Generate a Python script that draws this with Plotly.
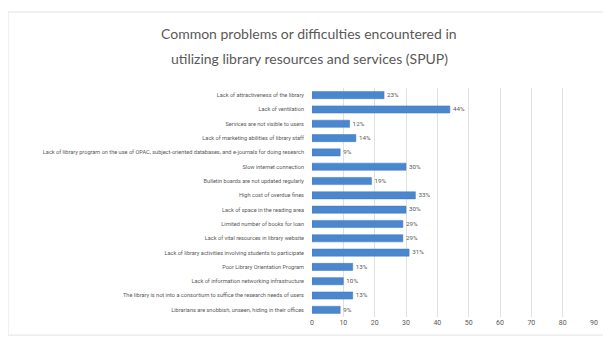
import plotly.graph_objects as go

title_lines = [
    "Common problems or difficulties encountered in",
    "utilizing library resources and services (SPUP)",
]
categories = [
    "Lack of attractiveness of the library",
    "Lack of ventilation",
    "Services are not visible to users",
    "Lack of marketing abilities of library staff",
    "Lack of library program on the use of OPAC, subject-oriented databases, and e-journals for doing research",
    "Slow internet connection",
    "Bulletin boards are not updated regularly",
    "High cost of overdue fines",
    "Lack of space in the reading area",
    "Limited number of books for loan",
    "Lack of vital resources in library website",
    "Lack of library activities involving students to participate",
    "Poor Library Orientation Program",
    "Lack of information networking infrastructure",
    "The library is not into a consortium to suffice the research needs of users",
    "Librarians are snobbish, unseen, hiding in their offices",
]
values = [23, 44, 12, 14, 9, 30, 19, 33, 30, 29, 29, 31, 13, 10, 13, 9]
labels = [f"{v}%" for v in values]
x_ticks = [0, 10, 20, 30, 40, 50, 60, 70, 80, 90]

FONT = "Roboto, Liberation Sans, sans-serif"
TFONT = "Lato, Roboto, sans-serif"

fig = go.Figure(go.Bar(
    y=categories, x=values, orientation="h",
    marker=dict(color="#4a87cf", line=dict(color="#3f78bb", width=0.5)),
    width=0.5,
    text=labels, textposition="outside",
    textfont=dict(size=7, color="#595959", family=FONT),
    cliponaxis=False,
))

fig.update_layout(
    width=611, height=341,
    paper_bgcolor="white", plot_bgcolor="white",
    margin=dict(l=304, r=25, t=80, b=32, autoexpand=False),
    showlegend=False,
    shapes=[dict(type="rect", xref="paper", yref="paper",
                 x0=-1.078, x1=1.057, y0=-0.079, y1=1.332,
                 line=dict(color="#e2e2e2", width=1), layer="below")],
    annotations=[
        dict(text=title_lines[0], xref="paper", yref="paper", x=-0.009, y=1.236,
             xanchor="center", yanchor="middle", showarrow=False,
             font=dict(family=TFONT, size=14, color="#595959")),
        dict(text=title_lines[1], xref="paper", yref="paper", x=-0.009, y=1.131,
             xanchor="center", yanchor="middle", showarrow=False,
             font=dict(family=TFONT, size=14, color="#595959")),
    ],
)
fig.update_xaxes(
    range=[0, 90], tickvals=x_ticks, showgrid=True, gridcolor="#e0e0e0",
    gridwidth=1, zeroline=False, showline=False, automargin=False,
    tickfont=dict(family=FONT, size=7, color="#595959"),
)
fig.update_yaxes(
    autorange="reversed", showgrid=False, showline=False, ticks="",
    automargin=False, ticklabelstandoff=7,
    tickfont=dict(family=FONT, size=5.6, color="#595959"),
)

fig.write_html("out.html")
